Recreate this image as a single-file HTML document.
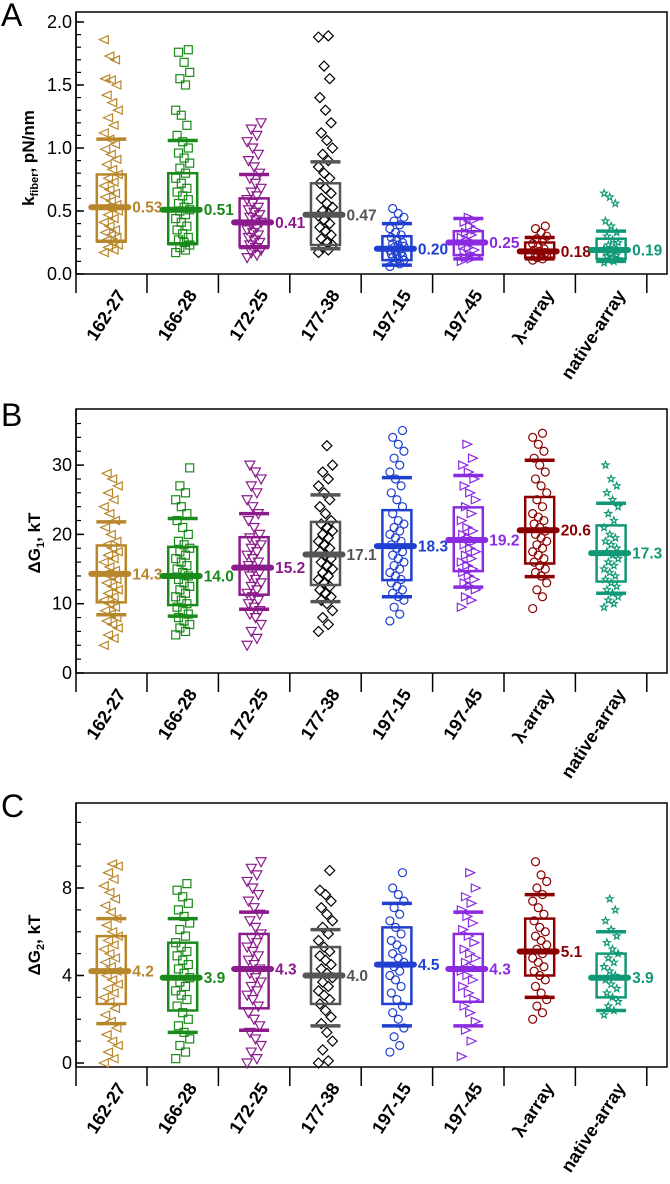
<!DOCTYPE html>
<html><head><meta charset="utf-8"><style>
html,body{margin:0;padding:0;background:#fff;}
svg{display:block;font-family:"Liberation Sans",Arial,sans-serif;}
</style></head>
<body>
<svg id="chart" width="670" height="1184" viewBox="0 0 670 1184" xmlns="http://www.w3.org/2000/svg"></svg>
<script>
const cats=['162-27','166-28','172-25','177-38','197-15','197-45','λ-array','native-array'];
const colors=['#b8862b','#1a8a1a','#8b1a8b','#000000','#1f3fd0','#8a2be2','#8b0000','#119977'];
const boxColors=['#b8862b','#1a8a1a','#8b1a8b','#555555','#1f3fd0','#8a2be2','#8b0000','#119977'];
const markers=['ltri','sq','dtri','dia','circ','rtri','circ','star'];

// Panel A: k_fiber
const aMed=[0.53,0.51,0.41,0.47,0.20,0.25,0.18,0.19];
const aQ1=[0.26,0.24,0.22,0.23,0.11,0.15,0.13,0.12];
const aQ3=[0.79,0.80,0.60,0.72,0.30,0.34,0.25,0.28];
const aLo=[0.26,0.24,0.21,0.20,0.07,0.12,0.12,0.10];
const aHi=[1.07,1.06,0.79,0.89,0.40,0.44,0.29,0.34];
const aText=['0.53','0.51','0.41','0.47','0.20','0.25','0.18','0.19'];
const aTicks=['0.0','0.5','1.0','1.5','2.0'];
const a1=[0.17,0.19,0.21,0.23,0.25,0.27,0.29,0.31,0.33,0.35,0.38,0.41,0.44,0.47,0.5,0.52,0.53,0.55,0.58,0.61,0.64,0.67,0.7,0.73,0.76,0.79,0.83,0.87,0.91,0.95,0.99,1.03,1.07,1.12,1.18,1.24,1.3,1.36,1.42,1.5,1.54,1.55,1.7,1.73,1.86];
const a2=[0.17,0.19,0.21,0.23,0.25,0.27,0.29,0.32,0.35,0.38,0.41,0.44,0.47,0.5,0.51,0.53,0.56,0.59,0.62,0.65,0.68,0.72,0.76,0.8,0.84,0.88,0.92,0.96,1.0,1.05,1.1,1.18,1.26,1.3,1.5,1.55,1.6,1.68,1.76,1.78];
const a3=[0.13,0.15,0.17,0.19,0.21,0.23,0.25,0.27,0.29,0.31,0.33,0.35,0.37,0.39,0.41,0.43,0.45,0.47,0.49,0.51,0.53,0.56,0.59,0.62,0.65,0.68,0.72,0.76,0.8,0.85,0.9,0.95,1.0,1.05,1.1,1.15,1.2];
const a4=[0.17,0.19,0.21,0.23,0.25,0.28,0.31,0.34,0.37,0.4,0.43,0.46,0.48,0.5,0.53,0.56,0.6,0.64,0.68,0.72,0.76,0.8,0.85,0.9,0.95,1.0,1.06,1.12,1.2,1.3,1.4,1.55,1.65,1.88,1.89];
const a5=[0.06,0.08,0.1,0.11,0.12,0.13,0.14,0.15,0.16,0.17,0.18,0.19,0.2,0.21,0.22,0.23,0.24,0.25,0.27,0.29,0.31,0.33,0.36,0.39,0.42,0.45,0.48,0.52];
const a6=[0.1,0.12,0.13,0.14,0.15,0.17,0.19,0.21,0.23,0.25,0.27,0.29,0.31,0.33,0.35,0.38,0.41,0.43,0.45];
const a7=[0.11,0.12,0.13,0.14,0.15,0.16,0.17,0.18,0.19,0.2,0.22,0.24,0.26,0.28,0.3,0.33,0.36,0.38];
const a8=[0.09,0.1,0.11,0.12,0.13,0.14,0.15,0.16,0.17,0.18,0.19,0.2,0.21,0.23,0.25,0.27,0.3,0.33,0.38,0.42,0.56,0.61,0.64];

// Panel B: dG1
const bMed=[14.3,14.0,15.2,17.1,18.3,19.2,20.6,17.3];
const bQ1=[10.2,9.8,11.3,12.7,13.4,14.7,15.8,13.2];
const bQ3=[18.4,18.2,19.6,21.8,23.5,23.9,25.4,21.3];
const bLo=[8.4,8.2,9.2,10.3,11.0,12.4,13.9,11.5];
const bHi=[21.8,22.3,23.0,25.7,28.2,28.5,30.7,24.5];
const bText=['14.3','14.0','15.2','17.1','18.3','19.2','20.6','17.3'];
const bTicks=['0','10','20','30'];
const b1=[4,5,5.5,6.5,7,7.5,8,8.5,9,9.5,10,10.5,11,11.5,12,12.5,13,13.5,14,14.3,14.8,15.3,16,16.5,17,17.5,18,18.5,19,20,21,22,23,24,25,26,27,28,28.8];
const b2=[5.5,6,6.5,7,7.5,8,8.5,9,9.5,10,10.5,11,11.5,12,12.5,13,13.5,14,14.5,15,15.5,16,16.5,17,17.5,18,18.5,19,20,21,22,23,24,25,26,27,29.6];
const b3=[4,5,6,7,8,8.5,9,9.5,10,10.5,11,11.5,12,12.5,13,13.5,14,14.5,15,15.5,16,16.5,17,17.5,18,18.5,19,19.5,20,21,22,23,24,25,26,27,28,29,30];
const b4=[6,7,8,9,10,10.5,11,11.5,12,12.5,13,13.5,14,14.5,15,15.5,16,16.5,17,17.5,18,18.5,19,19.5,20,20.5,21,21.5,22,23,24,25,26,27,28,29,30,32.8];
const b5=[7.5,8.5,9.5,10.5,11,11.5,12,12.5,13,13.5,14,14.5,15,15.5,16,16.5,17,17.5,18,18.5,19,19.5,20,20.5,21,21.5,22,23,24,25,26,27,28,29,30,31,32,33,34,35];
const b6=[9.5,10.5,11,12,12.5,13,13.5,14,14.5,15,15.5,16,16.5,17,17.5,18,18.5,19,19.5,20,20.5,21,22,23,24,25,26,27,28,29,30,31,33];
const b7=[9.3,11,12,13,14,14.5,15,15.5,16,16.5,17,17.5,18,18.5,19,19.5,20,20.5,21,21.5,22,22.5,23,24,25,26,27,28,29,30,31,32,33,34,34.6];
const b8=[9.5,10,10.5,11,11.5,12,12.5,13,13.5,14,14.5,15,15.5,16,16.5,17,17.5,18,18.5,19,19.5,20,21,22,23,24,25,26,27,28,30];

// Panel C: dG2
const cMed=[4.2,3.9,4.3,4.0,4.5,4.3,5.1,3.9];
const cQ1=[2.7,2.4,2.5,2.7,2.7,2.8,4.0,3.0];
const cQ3=[5.8,5.5,5.9,5.3,6.2,5.9,6.6,5.0];
const cLo=[1.8,1.4,1.5,1.7,1.7,1.7,3.0,2.4];
const cHi=[6.6,6.6,6.9,6.1,7.3,6.9,7.7,6.0];
const cText=['4.2','3.9','4.3','4.0','4.5','4.3','5.1','3.9'];
const cTicks=['0','4','8'];
const c1=[0,0.2,0.5,0.8,1,1.3,1.6,1.9,2.2,2.5,2.8,3,3.2,3.4,3.6,3.8,4,4.2,4.4,4.6,4.8,5,5.2,5.4,5.6,5.8,6,6.3,6.6,6.9,7.2,7.5,7.8,8.1,8.4,8.7,9,9.1];
const c2=[0.2,0.5,0.8,1.1,1.4,1.7,2,2.3,2.6,2.9,3.1,3.3,3.5,3.7,3.9,4.1,4.3,4.5,4.7,4.9,5.1,5.3,5.5,5.8,6.1,6.4,6.7,7,7.3,7.6,7.9,8.2];
const c3=[0,0.2,0.5,0.8,1.1,1.4,1.7,2,2.3,2.6,2.9,3.1,3.3,3.5,3.7,3.9,4.1,4.3,4.5,4.7,4.9,5.1,5.3,5.5,5.7,5.9,6.2,6.5,6.8,7.1,7.4,7.7,8,8.3,8.6,8.9,9.2];
const c4=[0,0.1,0.6,1,1.4,1.8,2.1,2.4,2.7,2.9,3.1,3.3,3.5,3.7,3.9,4.1,4.3,4.5,4.7,4.9,5.1,5.3,5.6,5.9,6.2,6.5,6.8,7.1,7.4,7.7,7.9,8.8];
const c5=[0.5,0.8,1.2,1.6,2,2.3,2.6,2.9,3.2,3.5,3.8,4,4.2,4.4,4.6,4.8,5,5.2,5.4,5.6,5.9,6.2,6.5,6.8,7.1,7.4,7.7,8,8.7];
const c6=[0.3,1,1.5,1.9,2.3,2.6,2.9,3.2,3.5,3.8,4,4.2,4.4,4.6,4.8,5,5.2,5.5,5.8,6.1,6.4,6.7,7,7.3,7.6,8,8.7];
const c7=[2,2.3,2.6,2.9,3.2,3.5,3.8,4,4.2,4.4,4.6,4.8,5,5.2,5.4,5.6,5.8,6,6.2,6.5,6.8,7.1,7.4,7.7,8,8.3,8.6,9.2];
const c8=[2.2,2.4,2.6,2.8,3,3.2,3.4,3.6,3.8,4,4.2,4.4,4.6,4.8,5,5.2,5.5,5.8,6.1,6.5,7,7.5];

const NS='http://www.w3.org/2000/svg';
const svg=document.getElementById('chart');
function mk(tag,attrs,parent){const e=document.createElementNS(NS,tag);for(const k in attrs)e.setAttribute(k,attrs[k]);(parent||svg).appendChild(e);return e;}

const X0=76,XR=667,SEP0=147,STEP=71.4;
function xCenter(i){return SEP0+STEP*i-STEP/2;}

function marker(g,type,cx,cy,col){
  const s=4;let el;
  if(type==='sq')el=mk('rect',{x:cx-s,y:cy-s,width:2*s,height:2*s},g);
  else if(type==='circ')el=mk('circle',{cx:cx,cy:cy,r:s},g);
  else if(type==='dia')el=mk('polygon',{points:`${cx},${cy-s-1} ${cx+s+1},${cy} ${cx},${cy+s+1} ${cx-s-1},${cy}`},g);
  else if(type==='ltri')el=mk('polygon',{points:`${cx-s-1},${cy} ${cx+s},${cy-s} ${cx+s},${cy+s}`},g);
  else if(type==='rtri')el=mk('polygon',{points:`${cx+s+1},${cy} ${cx-s},${cy-s} ${cx-s},${cy+s}`},g);
  else if(type==='dtri')el=mk('polygon',{points:`${cx},${cy+s+1} ${cx-s-1},${cy-s} ${cx+s+1},${cy-s}`},g);
  else {let p=[];for(let k=0;k<10;k++){const r=k%2?1.5:3.6,a=-Math.PI/2+k*Math.PI/5;p.push((cx+r*Math.cos(a)).toFixed(1)+','+(cy+r*Math.sin(a)).toFixed(1));}el=mk('polygon',{points:p.join(' ')},g);}
  el.setAttribute('fill','none');el.setAttribute('stroke',col);el.setAttribute('stroke-width','1.2');
  
  
}

function panel(cfg){
  const g=mk('g',{});
  
  
  const Y=v=>cfg.zeroY-v*cfg.scale;
  const fr=mk('rect',{x:X0,y:cfg.top,width:XR-X0,height:cfg.axisY-cfg.top,fill:'none',stroke:'#000','stroke-width':1.5},g);
  
  
  const la=mk('line',{x1:X0,y1:cfg.top,x2:X0,y2:cfg.axisY+19,stroke:'#000','stroke-width':1.5},g);
  
  
  for(let v=cfg.minorStep;v<=cfg.maxV+1e-9;v+=cfg.minorStep){
    const y=Y(v);if(y<cfg.top+1)break;
    const t=mk('line',{x1:X0,y1:y,x2:X0+5,y2:y,stroke:'#000','stroke-width':1.2},g);
    
    
  }
  cfg.ticks.forEach((lab,k)=>{
    const v=parseFloat(lab);const y=Y(v);
    const t=mk('line',{x1:X0,y1:y,x2:X0+8,y2:y,stroke:'#000','stroke-width':1.5},g);
    
    
    const tx=mk('text',{x:72,y:y+6,'text-anchor':'end','font-size':18,fill:'#000'},g);
    tx.textContent=lab;
    
    
  });
  const tt=mk('text',{transform:`translate(${cfg.titleX},${cfg.titleY}) rotate(-90)`,'text-anchor':'middle','font-size':17,'font-weight':'bold',fill:'#000'},g);
  tt.innerHTML=cfg.title;
  
  
  const pl=mk('text',{x:1,y:cfg.letterY,'font-size':32,fill:'#000'},g);
  pl.textContent=cfg.letter;
  
  
  cats.forEach((c,i)=>{
    const cx=xCenter(i);
    const sx=SEP0+STEP*i;
    const sp=mk('line',{x1:sx,y1:cfg.axisY,x2:sx,y2:cfg.axisY+19,stroke:'#000','stroke-width':1.5},g);
    
    
    const lb=mk('text',{transform:`translate(${cx+15},${cfg.axisY+21}) rotate(-57)`,'text-anchor':'end','font-size':18,'font-weight':'bold',fill:'#000'},g);
    lb.textContent=c;
    
    
    const pts=cfg.points[i];
    pts.forEach((v,j)=>{
      const jx=((j*7)%11-5)*1.4;
      marker(g,markers[i],cx+jx,Y(v),colors[i]);
    });
    const col=boxColors[i];
    const bx=mk('rect',{x:cx-14.5,y:Y(cfg.q3[i]),width:29,height:Y(cfg.q1[i])-Y(cfg.q3[i]),fill:'none',stroke:col,'stroke-width':2.5},g);
    
    
    const hi=mk('line',{x1:cx-15,y1:Y(cfg.hi[i]),x2:cx+15,y2:Y(cfg.hi[i]),stroke:col,'stroke-width':3.5},g);
    
    
    const lo=mk('line',{x1:cx-15,y1:Y(cfg.lo[i]),x2:cx+15,y2:Y(cfg.lo[i]),stroke:col,'stroke-width':3.5},g);
    
    
    const md=mk('line',{x1:cx-20,y1:Y(cfg.med[i]),x2:cx+17,y2:Y(cfg.med[i]),stroke:col,'stroke-width':6,'stroke-linecap':'round'},g);
    
    
    const ml=mk('text',{x:cx+21,y:Y(cfg.med[i])+5.5,'font-size':15.5,'font-weight':'bold',fill:col},g);
    ml.textContent=cfg.text[i];
    
    
  });
}

panel({name:'panel-a-kfiber',letter:'A',letterY:26,top:12,axisY:274,zeroY:274,scale:126,minorStep:0.1,maxV:2.0,ticks:aTicks,
  title:'k<tspan font-size="11" dy="4">fiber</tspan><tspan dy="-4">, pN/nm</tspan>',titleX:34,titleY:158,
  med:aMed,q1:aQ1,q3:aQ3,lo:aLo,hi:aHi,text:aText,points:[a1,a2,a3,a4,a5,a6,a7,a8]});
panel({name:'panel-b-dg1',letter:'B',letterY:426,top:409,axisY:673,zeroY:673,scale:6.93,minorStep:2,maxV:38,ticks:bTicks,
  title:'ΔG<tspan font-size="11" dy="4">1</tspan><tspan dy="-4">, kT</tspan>',titleX:40,titleY:543,
  med:bMed,q1:bQ1,q3:bQ3,lo:bLo,hi:bHi,text:bText,points:[b1,b2,b3,b4,b5,b6,b7,b8]});
panel({name:'panel-c-dg2',letter:'C',letterY:817,top:803,axisY:1067,zeroY:1063,scale:21.875,minorStep:1,maxV:11.5,ticks:cTicks,
  title:'ΔG<tspan font-size="11" dy="4">2</tspan><tspan dy="-4">, kT</tspan>',titleX:40,titleY:945,
  med:cMed,q1:cQ1,q3:cQ3,lo:cLo,hi:cHi,text:cText,points:[c1,c2,c3,c4,c5,c6,c7,c8]});
</script>
</body></html>
